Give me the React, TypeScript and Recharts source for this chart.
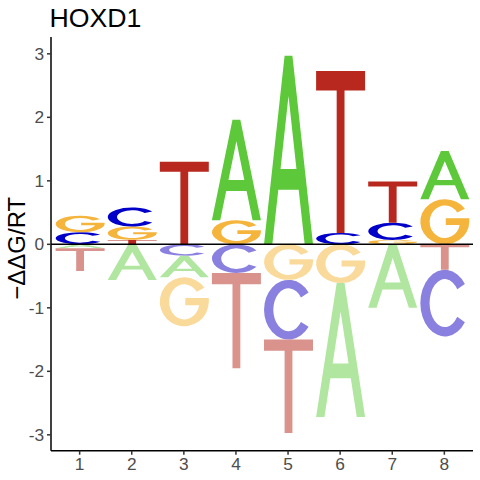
import { BarChart, Bar, XAxis, YAxis, ReferenceLine } from 'recharts'

// energy logo for HOXD1, one value per base per position (-ddG/RT)
const positions = [1, 2, 3, 4, 5, 6, 7, 8]
const bases = ['A', 'C', 'G', 'T']
const scoreA = [-0.06, -0.56, -0.34, 1.58, 2.97, -2.11, -1.0, 0.76]
const scoreC = [0.19, 0.3, -0.18, -0.45, -0.94, 0.18, 0.27, -1.05]
const scoreG = [0.26, 0.21, -0.77, 0.38, -0.56, -0.61, 0.07, 0.71]
const scoreT = [-0.36, 0.07, 1.3, -1.5, -1.47, 2.55, 0.65, -0.4]
const yTicks = [-3, -2, -1, 0, 1, 2, 3]

const upColor: Record<string, string> = { A: '#5DC93A', C: '#0000C8', G: '#F5B43C', T: '#B8281E' }
const downColor: Record<string, string> = { A: '#B0E6A0', C: '#8A80E0', G: '#FADA9A', T: '#DA928C' }

// glyph outlines in a unit box (y down)
const glyphs: Record<string, string> = {
  A: 'M0,1 L0.42,0 L0.58,0 L1,1 L0.83,1 L0.708,0.71 L0.292,0.71 L0.17,1 Z M0.338,0.6 L0.662,0.6 L0.5,0.214 Z',
  C: 'M0.91,0.213 A0.5 0.5 0 1 0 0.91,0.787 L0.754,0.706 A0.31 0.36 0 1 1 0.754,0.294 Z',
  G: 'M0.91,0.213 A0.5 0.5 0 1 0 1,0.5 L1,0.42 L0.52,0.42 L0.52,0.57 L0.804,0.57 A0.31 0.36 0 1 1 0.754,0.294 Z',
  T: 'M0,0 H1 V0.12 H0.58 V1 H0.42 V0.12 H0 Z',
}

const ranks = [0, 1, 2, 3]
const scores = [scoreA, scoreC, scoreG, scoreT]

const data = positions.map((pos, i) => {
  const entries = bases.map((b, j) => ({ b, v: scores[j][i] }))
  const up = entries.filter((e) => e.v > 0).sort((a, b) => a.v - b.v)
  const down = entries.filter((e) => e.v < 0).sort((a, b) => b.v - a.v)
  const row: Record<string, any> = { pos }
  ranks.forEach((k) => {
    row[`p${k}`] = up[k] ? up[k].v : 0
    row[`pl${k}`] = up[k] ? up[k].b : null
    row[`n${k}`] = down[k] ? down[k].v : 0
    row[`nl${k}`] = down[k] ? down[k].b : null
  })
  return row
})

function Glyph(props: any) {
  const { x, y, width, height, letter, color } = props
  if (!letter || !height) return null
  let top = y
  let h = height
  if (h < 0) {
    top = y + h
    h = -h
  }
  return (
    <path
      d={glyphs[letter]}
      fill={color}
      fillRule="evenodd"
      transform={`translate(${x},${top}) scale(${width},${h})`}
    />
  )
}

const font = '"Liberation Sans", Arial, sans-serif'

const Texts = () => (
  <g>
    <text x={49.5} y={27.3} fontSize={26.7} fontFamily={font} fill="#000">
      HOXD1
    </text>
    <text
      x={25}
      y={248.3}
      fontSize={24}
      fontFamily={font}
      fill="#000"
      textAnchor="middle"
      transform="rotate(-90 25 248.3)"
    >
      −ΔΔG/RT
    </text>
  </g>
)

export default function App() {
  return (
    <div style={{ position: 'absolute', left: 0, top: 0, background: '#fff' }}>
      <BarChart
        width={480}
        height={480}
        data={data}
        stackOffset="sign"
        margin={{ top: 37, right: 7, left: 0, bottom: 0 }}
      >
        <XAxis
          dataKey="pos"
          type="number"
          domain={[0.45, 8.55]}
          ticks={positions}
          interval={0}
          height={29.3}
          tickSize={4}
          tickMargin={3}
          axisLine={{ stroke: '#000', strokeWidth: 1.5 }}
          tickLine={{ stroke: '#333', strokeWidth: 1.5 }}
          tick={{ fill: '#4D4D4D', fontSize: 17.3, fontFamily: font }}
        />
        <YAxis
          type="number"
          domain={[-3.25, 3.265]}
          ticks={yTicks}
          interval={0}
          width={51}
          tickSize={4}
          tickMargin={3}
          allowDataOverflow
          axisLine={{ stroke: '#000', strokeWidth: 1.5 }}
          tickLine={{ stroke: '#333', strokeWidth: 1.5 }}
          tick={{ fill: '#4D4D4D', fontSize: 17.3, fontFamily: font }}
          label={{ content: () => <Texts /> }}
        />
        {ranks.map((k) => (
          <Bar
            key={`p${k}`}
            dataKey={`p${k}`}
            stackId="s"
            barSize={49}
            isAnimationActive={false}
            shape={(p: any) => (
              <Glyph {...p} letter={p.payload[`pl${k}`]} color={upColor[p.payload[`pl${k}`]]} />
            )}
          />
        ))}
        {ranks.map((k) => (
          <Bar
            key={`n${k}`}
            dataKey={`n${k}`}
            stackId="s"
            barSize={49}
            isAnimationActive={false}
            shape={(p: any) => (
              <Glyph {...p} letter={p.payload[`nl${k}`]} color={downColor[p.payload[`nl${k}`]]} />
            )}
          />
        ))}
        <ReferenceLine y={0} stroke="#000" strokeWidth={1.5} />
      </BarChart>
    </div>
  )
}
